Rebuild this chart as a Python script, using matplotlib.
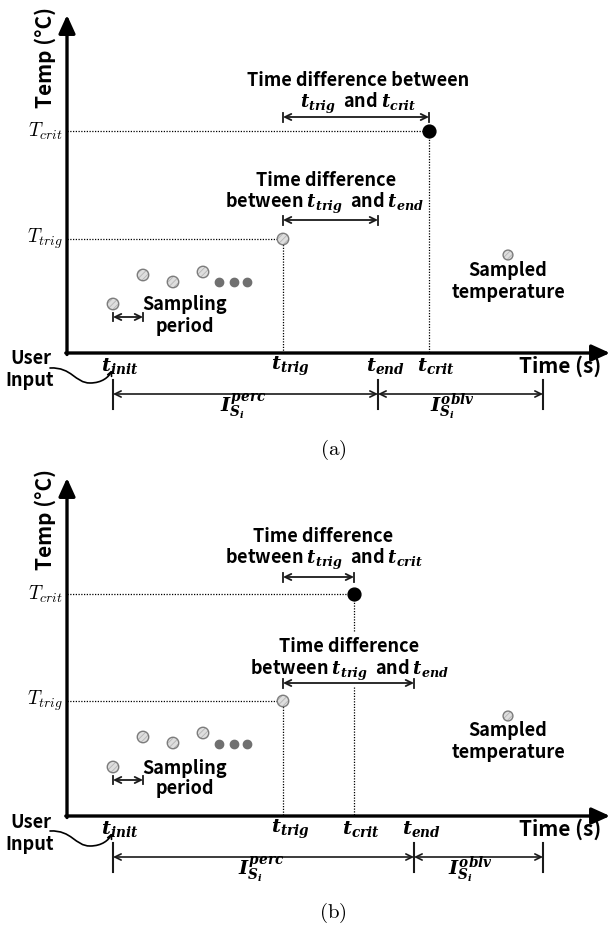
import numpy as np
import matplotlib
matplotlib.use('Agg')
import matplotlib.pyplot as plt
from matplotlib.path import Path
from matplotlib.patches import FancyArrowPatch

plt.rcParams['font.family'] = ['Noto Sans CJK KR', 'DejaVu Sans']
plt.rcParams['font.weight'] = 'bold'
plt.rcParams['mathtext.fontset'] = 'custom'
plt.rcParams['mathtext.it'] = 'DejaVu Serif:italic:bold'
plt.rcParams['mathtext.rm'] = 'DejaVu Serif:bold'
plt.rcParams['mathtext.bf'] = 'DejaVu Serif:bold'
plt.rcParams['hatch.linewidth'] = 0.6

# ---------------- data (x: time units from origin, y: temp units above time axis)
panel_labels = ['(a)', '(b)']
t_init = [46, 46]
t_trig = [216, 216]
t_end = [311, 347]
t_crit = [362, 287]
t_oblv_end = [476, 476]
T_trig = [114, 115]
T_crit = [222, 222]
sample_t = [46, 76, 106, 136]
sample_T = [[49, 78, 71, 81], [49, 79, 73, 83]]
ellipsis_t = [152, 167, 180]
ellipsis_T = [71, 72]
legend_t = [441, 441]
legend_T = [98, 100]
time_axis_end = 543
temp_axis_end = 338
crit_gap = [None, (129, 184)]   # gap in the t_crit guide line (panel b)

# annotation layout per panel
diff1_y = [236, 239]
diff1_text = [["Time difference between", r"$t_{trig}$  and $t_{crit}$"],
              ["Time difference", r"between $t_{trig}$  and $t_{crit}$"]]
diff1_pos = [[(291, 272), (291, 250)], [(256, 279), (257, 257)]]
diff2_y = [133, 133]
diff2_text = [["Time difference", r"between $t_{trig}$  and $t_{end}$"],
              ["Time difference", r"between $t_{trig}$  and $t_{end}$"]]
diff2_pos = [[(259, 172), (258, 150)], [(282, 169), (283, 146)]]

fig = plt.figure(figsize=(6.11, 9.27), dpi=100)
H = 927.0
axes = [fig.add_axes([0, 1 - 463.5 / H, 1, 463.5 / H]),
        fig.add_axes([0, 0, 1, 463.5 / H])]
ylims = [(-110.5, 353), (-111, 352.5)]

dot_ls = (0, (1.0, 1.2))
arrow_col = '#1a1a1a'
pt_face = '#dedede'
pt_hatch = '#b4b4b4'
pt_edge = '#7c7c7c'
FS = 13


def sampled(ax, xs, ys, s):
    ax.scatter(xs, ys, s=s, facecolor=pt_face, edgecolor=pt_hatch,
               hatch='//////', lw=0, zorder=5)
    ax.scatter(xs, ys, s=s, facecolor='none', edgecolor=pt_edge, lw=1.0, zorder=6)


def dbl_arrow(ax, x0, x1, y, bar=4.5):
    ax.annotate('', xy=(x1, y), xytext=(x0, y),
                arrowprops=dict(arrowstyle='<->,head_length=0.45,head_width=0.22',
                                lw=1.3, color=arrow_col, shrinkA=0, shrinkB=0))
    ax.plot([x0, x0], [y - bar, y + bar], color=arrow_col, lw=1.3)
    ax.plot([x1, x1], [y - bar, y + bar], color=arrow_col, lw=1.3)


for i, ax in enumerate(axes):
    ax.set_xlim(-67, 544)
    ax.set_ylim(*ylims[i])
    ax.axis('off')

    # main axes arrows
    ax.annotate('', xy=(0, temp_axis_end), xytext=(0, -1.5),
                arrowprops=dict(arrowstyle='-|>,head_length=1.1,head_width=0.5',
                                lw=2.4, color='black', shrinkA=0, shrinkB=0))
    ax.annotate('', xy=(time_axis_end, 0), xytext=(-1.2, 0),
                arrowprops=dict(arrowstyle='-|>,head_length=1.1,head_width=0.5',
                                lw=2.4, color='black', shrinkA=0, shrinkB=0))

    # guide lines
    ax.plot([0, t_trig[i]], [T_trig[i], T_trig[i]], ls=dot_ls, lw=0.9, color='k')
    ax.plot([t_trig[i], t_trig[i]], [T_trig[i], 0], ls=dot_ls, lw=0.9, color='k')
    ax.plot([0, t_crit[i]], [T_crit[i], T_crit[i]], ls=dot_ls, lw=0.9, color='k')
    if crit_gap[i] is None:
        ax.plot([t_crit[i], t_crit[i]], [T_crit[i], 0], ls=dot_ls, lw=0.9, color='k')
    else:
        lo, hi = crit_gap[i]
        ax.plot([t_crit[i], t_crit[i]], [T_crit[i], hi], ls=dot_ls, lw=0.9, color='k')
        ax.plot([t_crit[i], t_crit[i]], [lo, 0], ls=dot_ls, lw=0.9, color='k')

    # points
    sampled(ax, sample_t, sample_T[i], 68)
    ax.scatter(ellipsis_t, [ellipsis_T[i]] * 3, s=36, color='#707070', zorder=5)
    sampled(ax, [t_trig[i]], [T_trig[i]], 68)
    ax.scatter([t_crit[i]], [T_crit[i]], s=85, color='black', zorder=5)
    sampled(ax, [legend_t[i]], [legend_T[i]], 50)
    ax.text(legend_t[i], legend_T[i] - 15, 'Sampled', ha='center', va='center', fontsize=FS)
    ax.text(legend_t[i], legend_T[i] - 37, 'temperature', ha='center', va='center', fontsize=FS)

    # sampling period
    sp_y = sample_T[i][0] - 13
    dbl_arrow(ax, sample_t[0], sample_t[1], sp_y, bar=4)
    ax.text(118, sp_y + 12, 'Sampling', ha='center', va='center', fontsize=FS)
    ax.text(118, sp_y - 9, 'period', ha='center', va='center', fontsize=FS)

    # time-difference annotations
    dbl_arrow(ax, t_trig[i], t_crit[i], diff1_y[i])
    for txt, (x, y) in zip(diff1_text[i], diff1_pos[i]):
        ax.text(x, y, txt, ha='center', va='center', fontsize=FS)
    dbl_arrow(ax, t_trig[i], t_end[i], diff2_y[i])
    for txt, (x, y) in zip(diff2_text[i], diff2_pos[i]):
        ax.text(x, y, txt, ha='center', va='center', fontsize=FS)

    # axis labels
    ax.text(-22, 296, 'Temp (°C)', rotation=90, ha='center', va='center', fontsize=15)
    ax.text(493, -13, 'Time (s)', ha='center', va='center', fontsize=15)
    ax.text(-4, T_crit[i], r'$T_{crit}$', ha='right', va='center', fontsize=14,
            math_fontfamily='cm')
    ax.text(-4, T_trig[i], r'$T_{trig}$', ha='right', va='center', fontsize=14,
            math_fontfamily='cm')

    # tick labels
    for tx, lab in zip([t_init[i], t_trig[i], t_end[i], t_crit[i]],
                       [r'$t_{init}$', r'$t_{trig}$', r'$t_{end}$', r'$t_{crit}$']):
        ax.text(tx + 7, -13, lab, ha='center', va='center', fontsize=14)

    # user input
    ax.text(-36, -6, 'User', ha='center', va='center', fontsize=FS)
    ax.text(-37, -28, 'Input', ha='center', va='center', fontsize=FS)
    verts = [(-17, -15), (5, -14), (8, -30), (23, -30),
             (35, -30), (42, -24), (45, -17)]
    codes = [Path.MOVETO, Path.CURVE4, Path.CURVE4, Path.CURVE4,
             Path.CURVE4, Path.CURVE4, Path.CURVE4]
    ax.add_patch(FancyArrowPatch(path=Path(verts, codes),
                                 arrowstyle='->,head_length=0.3,head_width=0.15',
                                 mutation_scale=10, lw=1.2, color='black'))

    # intervals
    for bx in [t_init[i], t_end[i], t_oblv_end[i]]:
        ax.plot([bx, bx], [-27, -56], color='#1a1a1a', lw=1.5)
    ax.annotate('', xy=(t_end[i], -41), xytext=(t_init[i], -41),
                arrowprops=dict(arrowstyle='<->,head_length=0.45,head_width=0.22',
                                lw=1.2, color=arrow_col, shrinkA=0, shrinkB=0))
    ax.annotate('', xy=(t_oblv_end[i], -41), xytext=(t_end[i], -41),
                arrowprops=dict(arrowstyle='<->,head_length=0.45,head_width=0.22',
                                lw=1.2, color=arrow_col, shrinkA=0, shrinkB=0))
    ax.text((t_init[i] + t_end[i]) / 2 - 2, -54, r'$I_{S_i}^{perc}$', ha='center',
            va='center', fontsize=14)
    ax.text((t_end[i] + t_oblv_end[i]) / 2 - 8, -54, r'$I_{S_i}^{oblv}$', ha='center',
            va='center', fontsize=14)

    ax.text(266, -97, r'$\mathrm{' + panel_labels[i] + '}$', ha='center', va='center',
            fontsize=15, math_fontfamily='cm')

fig.savefig('out.png', dpi=100)
